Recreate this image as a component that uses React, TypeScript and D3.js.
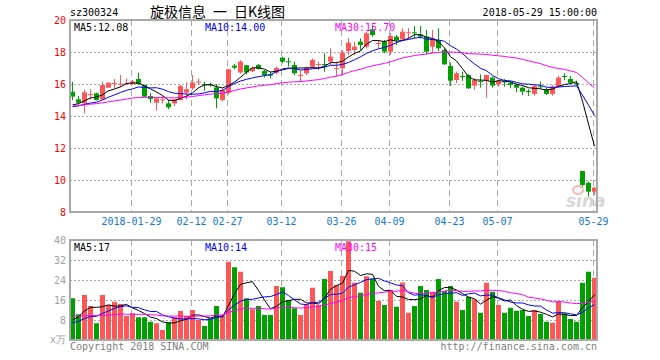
import React from 'react';
import * as d3 from 'd3';

// daily candles, 2018-01-15 .. 2018-05-29 (88 trading days)
const opens = [
  15.52, 15.04, 14.79, 15.30, 15.42, 15.04, 15.77, 16.00, 15.98, 16.00,
  16.00, 16.31, 15.94, 15.25, 14.83, 14.98, 14.79, 14.79, 15.00, 15.46,
  15.73, 16.10, 16.00, 15.98, 15.79, 15.00, 15.45, 17.15, 16.72, 17.17,
  16.80, 17.19, 16.81, 16.60, 16.70, 17.65, 17.42, 17.19, 16.50, 16.67,
  17.08, 17.20, 17.25, 17.40, 16.94, 16.98, 18.06, 18.12, 18.65, 18.33,
  19.42, 18.52, 18.65, 18.02, 18.96, 18.79, 19.19, 19.23, 19.10, 18.96,
  18.33, 18.75, 18.12, 17.12, 16.25, 16.50, 16.56, 15.90, 16.19, 16.19,
  16.40, 15.98, 16.17, 16.08, 15.94, 15.77, 15.56, 15.38, 15.85, 15.69,
  15.38, 15.83, 16.50, 16.31, 16.06, 10.56, 9.83, 9.27,
];
const highs = [
  16.14, 15.25, 15.63, 15.67, 15.46, 16.15, 16.10, 16.31, 16.56, 16.35,
  16.25, 16.71, 15.96, 15.42, 15.15, 15.25, 15.00, 15.04, 15.94, 16.10,
  16.56, 16.35, 16.15, 16.08, 16.00, 15.73, 16.95, 17.25, 17.50, 17.19,
  17.10, 17.25, 16.88, 16.75, 17.10, 17.71, 17.65, 17.40, 16.88, 17.10,
  17.60, 17.40, 17.92, 18.23, 17.40, 18.12, 18.85, 18.65, 18.85, 19.27,
  19.58, 18.75, 18.75, 19.17, 19.06, 19.48, 19.48, 19.62, 19.62, 19.38,
  19.38, 19.48, 18.23, 17.33, 16.77, 16.77, 16.60, 16.35, 16.60, 16.56,
  16.46, 16.25, 16.31, 16.19, 16.04, 15.83, 15.69, 15.94, 16.15, 15.77,
  15.94, 16.52, 16.67, 16.50, 16.21, 10.56, 9.90, 9.58,
];
const lows = [
  15.00, 14.69, 14.17, 15.04, 14.96, 15.00, 15.75, 15.73, 15.83, 15.94,
  15.94, 15.94, 15.17, 14.83, 14.33, 14.79, 14.42, 14.62, 14.96, 15.04,
  15.63, 15.94, 15.58, 15.83, 14.48, 14.90, 15.35, 16.92, 16.65, 16.60,
  16.75, 16.90, 16.40, 16.35, 16.60, 17.30, 17.08, 16.56, 16.15, 16.56,
  16.98, 16.88, 16.77, 17.19, 16.46, 16.56, 17.81, 17.81, 18.12, 18.23,
  18.96, 18.23, 17.92, 17.81, 18.44, 18.71, 18.85, 18.85, 18.85, 17.85,
  17.92, 18.06, 17.19, 15.88, 16.04, 16.19, 15.69, 15.65, 15.77, 15.15,
  15.77, 15.83, 15.83, 15.73, 15.48, 15.31, 15.25, 15.27, 15.69, 15.31,
  15.27, 15.77, 16.25, 16.00, 15.90, 9.58, 8.96, 9.06,
];
const closes = [
  15.21, 14.83, 15.48, 15.37, 15.00, 15.94, 16.08, 16.06, 16.02, 16.04,
  16.15, 16.00, 15.21, 15.06, 15.10, 15.04, 14.54, 15.04, 15.88, 15.67,
  16.08, 16.15, 15.94, 15.94, 15.10, 15.63, 16.92, 17.02, 17.40, 16.72,
  17.00, 16.94, 16.56, 16.52, 17.00, 17.40, 17.38, 16.67, 16.56, 17.02,
  17.50, 17.25, 17.20, 17.71, 17.00, 17.96, 18.58, 18.33, 18.44, 19.17,
  19.06, 18.56, 18.02, 19.00, 18.75, 19.27, 19.23, 19.17, 18.96, 18.02,
  18.85, 18.23, 17.23, 16.21, 16.67, 16.44, 15.73, 16.25, 16.15, 16.56,
  15.90, 16.19, 16.10, 15.94, 15.77, 15.52, 15.52, 15.88, 15.79, 15.38,
  15.83, 16.40, 16.44, 16.08, 16.00, 9.69, 9.27, 9.52,
];
// volume, 万手
const volumes = [
  16.7, 10.3, 18.0, 13.6, 6.7, 18.0, 14.0, 15.3, 14.4, 9.6,
  10.7, 9.1, 9.1, 7.3, 6.7, 4.0, 7.1, 9.1, 11.6, 9.6,
  12.0, 8.0, 5.6, 8.7, 13.6, 10.0, 31.3, 29.1, 27.3, 16.7,
  12.3, 13.6, 10.0, 10.0, 21.6, 21.1, 16.0, 12.7, 10.0, 14.4,
  20.9, 14.0, 24.4, 27.6, 22.0, 25.6, 39.5, 22.9, 18.9, 25.5,
  24.5, 15.7, 14.0, 19.9, 13.3, 23.0, 10.9, 13.6, 21.6, 20.0,
  19.3, 24.4, 19.6, 21.6, 15.3, 12.0, 17.3, 16.3, 10.9, 22.9,
  19.3, 14.0, 10.9, 12.9, 11.7, 12.0, 9.6, 12.0, 10.4, 7.3,
  6.9, 15.6, 10.7, 8.4, 7.3, 22.9, 27.3, 24.9,
];
// the 29 sessions before the window, only used for the moving averages
const priorCloses = [
  13.9, 14.0, 14.1, 14.2, 14.3, 14.2, 14.3, 14.4, 14.3, 14.3,
  14.8, 15.0, 15.2, 15.3, 15.2, 15.1, 15.0, 15.1, 15.0, 15.1,
  14.3, 14.5, 14.6, 14.5, 14.46, 14.4, 14.6, 14.5, 14.74,
];
const priorVolumes = [
  12, 14, 10, 9, 11, 13, 10, 8, 12, 11,
  10, 9, 12, 11, 13, 10, 9, 11, 12, 12,
  5, 6.5, 5.5, 6, 6, 4, 6, 6.5, 6.8,
];

const tickIndex = [10, 20, 26, 35, 45, 53, 63, 71, 87];
const tickLabels = ['2018-01-29', '02-12', '02-27', '03-12', '03-26', '04-09', '04-23', '05-07', '05-29'];
const volGridIndex = [10, 20, 35, 45, 53, 71, 87];
const priceTicks = [8, 10, 12, 14, 16, 18, 20];
const volTicks = [8, 16, 24, 32, 40];
const priceMaText = ['MA5:12.08', 'MA10:14.00', 'MA30:15.70'];
const volMaText = ['MA5:17', 'MA10:14', 'MA30:15'];

const RED = '#ff5757';
const GREEN = '#00a000';
const GRID = '#a8a8a8';
const MA_COLORS = ['#000000', '#0000ff', '#ff00ff'];
const MONO = '"DejaVu Sans Mono", "Liberation Mono", monospace';

function movingAvg(prior: number[], vals: number[], n: number) {
  const all = prior.concat(vals);
  const off = prior.length;
  return vals.map((_, i) => d3.mean(all.slice(off + i - n + 1, off + i + 1)) as number);
}

export default function App() {
  const left = 70, right = 597;
  const pTop = 20, pBot = 212;
  const vTop = 240, vBot = 340;

  const x = d3.scaleLinear().domain([0, 87]).range([72.5, 594.5]);
  const y = d3.scaleLinear().domain([8, 20]).range([pBot, pTop]);
  const yv = d3.scaleLinear().domain([0, 40]).range([vBot, vTop]);

  const idx = d3.range(closes.length);
  const priceMa = [5, 10, 30].map(n => movingAvg(priorCloses, closes, n));
  const volMa = [5, 10, 30].map(n => movingAvg(priorVolumes, volumes, n));

  const pLine = d3.line<number>().x((_, i) => x(i)).y(d => y(d));
  const vLine = d3.line<number>().x((_, i) => x(i)).y(d => yv(d));

  const gx = (i: number) => Math.round(x(i) - 2) + 0.5;

  return (
    <svg width={660} height={360} style={{ position: 'absolute', left: 0, top: 0, background: '#fff' }}
      fontFamily={MONO} fontSize={10}>
      {/* header */}
      <text x={70} y={16} fill="#000">sz300324</text>
      <text x={150} y={17} fontFamily='"Noto Sans CJK SC", sans-serif' fontSize={14} fill="#000">
        {'旋极信息\u2002一\u2002日K线图'}
      </text>
      <text x={597} y={16} textAnchor="end" fill="#000">2018-05-29 15:00:00</text>

      {/* price grid */}
      {priceTicks.slice(1, -1).map(t => (
        <line key={'ph' + t} x1={left} x2={right} y1={Math.round(y(t)) + 0.5} y2={Math.round(y(t)) + 0.5}
          stroke={GRID} strokeDasharray="2,2" />
      ))}
      {tickIndex.map(i => (
        <line key={'pv' + i} x1={gx(i)} x2={gx(i)} y1={pTop} y2={pBot} stroke={GRID} strokeDasharray="6,4" />
      ))}
      {priceTicks.map(t => (
        <text key={'pl' + t} x={66} y={y(t) + 3.5} textAnchor="end" fill="#ff0000">{t}</text>
      ))}
      {tickIndex.map((i, k) => (
        <text key={'xl' + i} x={gx(i)} y={225} textAnchor="middle" fill="#1577d0">{tickLabels[k]}</text>
      ))}

      {/* watermark */}
      <ellipse cx={578} cy={190} rx={5} ry={4} fill="none" stroke="#f6b4b4" strokeWidth={2} />
      <text x={566} y={207} fontFamily='"DejaVu Sans", sans-serif' fontStyle="italic" fontWeight="bold"
        fontSize={17} fill="#d8d8d8">sina</text>

      {/* candles */}
      {idx.map(i => {
        const up = closes[i] >= opens[i];
        const c = up ? RED : GREEN;
        const top = y(Math.max(opens[i], closes[i]));
        const bot = y(Math.min(opens[i], closes[i]));
        const cx = Math.round(x(i) - 0.5) + 0.5;
        return (
          <g key={'c' + i}>
            <line x1={cx} x2={cx} y1={y(highs[i])} y2={y(lows[i])} stroke={c} />
            <rect x={x(i) - 2.5} y={top} width={5} height={Math.max(1, bot - top)} fill={c} />
          </g>
        );
      })}
      {priceMa.map((m, k) => (
        <path key={'pm' + k} d={pLine(m) as string} fill="none" stroke={MA_COLORS[k]} strokeWidth={1} />
      ))}
      <rect x={left} y={pTop} width={right - left} height={pBot - pTop} fill="none" stroke={GRID} strokeWidth={2} />
      <text x={74} y={31} fill={MA_COLORS[0]}>{priceMaText[0]}</text>
      <text x={205} y={31} fill={MA_COLORS[1]}>{priceMaText[1]}</text>
      <text x={335} y={31} fill={MA_COLORS[2]}>{priceMaText[2]}</text>

      {/* volume grid */}
      {volTicks.slice(0, -1).map(t => (
        <line key={'vh' + t} x1={left} x2={right} y1={Math.round(yv(t)) + 0.5} y2={Math.round(yv(t)) + 0.5}
          stroke={GRID} strokeDasharray="2,2" />
      ))}
      {volGridIndex.map(i => (
        <line key={'vv' + i} x1={gx(i)} x2={gx(i)} y1={vTop} y2={vBot} stroke={GRID} strokeDasharray="6,4" />
      ))}
      {volTicks.map(t => (
        <text key={'vl' + t} x={66} y={yv(t) + 3.5} textAnchor="end" fill="#a0a0a0">{t}</text>
      ))}
      <text x={66} y={yv(0) + 3} textAnchor="end" fill="#a0a0a0">x万</text>

      {idx.map(i => (
        <rect key={'v' + i} x={x(i) - 2.5} y={yv(volumes[i])} width={5} height={yv(0) - yv(volumes[i])}
          fill={closes[i] >= opens[i] ? RED : GREEN} />
      ))}
      {volMa.map((m, k) => (
        <path key={'vm' + k} d={vLine(m) as string} fill="none" stroke={MA_COLORS[k]} strokeWidth={1} />
      ))}
      <rect x={left} y={vTop} width={right - left} height={vBot - vTop} fill="none" stroke={GRID} strokeWidth={2} />
      <text x={74} y={251} fill={MA_COLORS[0]}>{volMaText[0]}</text>
      <text x={205} y={251} fill={MA_COLORS[1]}>{volMaText[1]}</text>
      <text x={335} y={251} fill={MA_COLORS[2]}>{volMaText[2]}</text>

      <text x={70} y={350} fill="#808080">Copyright 2018 SINA.COM</text>
      <text x={597} y={350} textAnchor="end" fill="#808080">http://finance.sina.com.cn</text>
    </svg>
  );
}
